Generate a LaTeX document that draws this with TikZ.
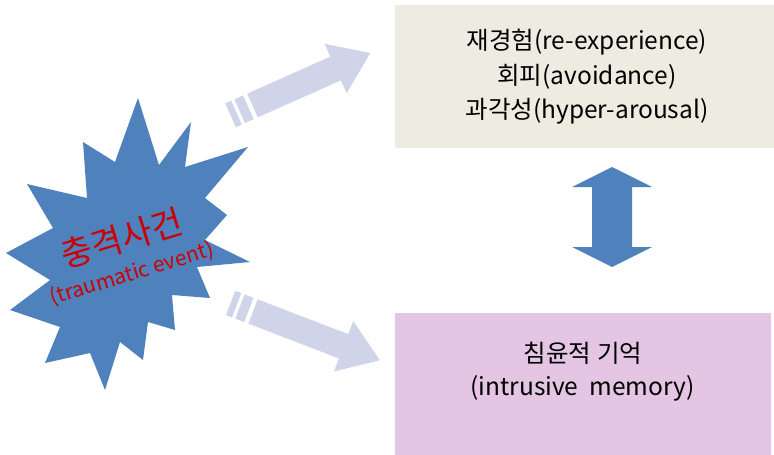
\documentclass[tikz,border=0pt]{standalone}
\usepackage{fontspec}
\setmainfont{Noto Sans CJK KR}
\definecolor{starblue}{RGB}{79,129,189}
\definecolor{paleblue}{RGB}{208,212,232}
\definecolor{boxbeige}{RGB}{238,236,225}
\definecolor{boxpink}{RGB}{228,198,228}
\definecolor{evred}{RGB}{204,0,0}
\begin{document}
\begin{tikzpicture}[x=1pt,y=-1pt,
  boxtext/.style={inner sep=0pt,text=black,font=\fontsize{24.5}{34}\selectfont},
  panel/.style={draw=none,inner sep=0pt,minimum width=#1},
  lightarrow/.style={fill=paleblue},
  bluefill/.style={fill=starblue}]
\useasboundingbox (0,0) rectangle (774,455);

% boxes
\path[fill=boxbeige] (395,5) rectangle (774,148);
\node[panel=0pt] (top) at (584.5,76.5) {};
\path[fill=boxpink] (395,313) rectangle (771,455);
\node[panel=0pt] (bottom) at (583,384) {};

\node[boxtext] (t1) at (587,42) {재경험(re-experience)};
\node[boxtext] (t2) at (587,76.5) {회피(avoidance)};
\node[boxtext] (t3) at (587,111) {과각성(hyper-arousal)};
\node[boxtext] (b1) at (583,353) {침윤적 기억};
\node[boxtext] (b2) at (582.5,388) {(intrusive~ memory)};

% star
\fill[bluefill] (138,98) -- (159,165) -- (191,122) -- (185,167) -- (248,147)
  -- (205,198) -- (227,215) -- (205,240) -- (250,262) -- (197,267)
  -- (210,298) -- (172,295) -- (175,330) -- (148,322) -- (143,360)
  -- (120,342) -- (105,390) -- (90,353) -- (45,363) -- (60,327)
  -- (10,310) -- (50,280) -- (6,253) -- (53,228) -- (27,184)
  -- (87,198) -- (83,142) -- (115,162) -- cycle;
\node[inner sep=0pt,text=evred,rotate=17,font=\fontsize{34}{38}\selectfont] (ev1) at (122,238) {충격사건};
\node[inner sep=0pt,text=evred,rotate=17,font=\fontsize{21}{24}\selectfont] (ev2) at (132,274) {(traumatic event)};

% upper striped arrow
\begin{scope}[shift={(252.5,105.5)},rotate=24]
  \fill[lightarrow] (0,-13) -- (91,-13) -- (91,-27) -- (129,0) -- (91,27) -- (91,13) -- (0,13) -- cycle;
  \fill[lightarrow] (-14,-13) rectangle (-4.5,13);
  \fill[lightarrow] (-24,-13) rectangle (-17.5,13);
\end{scope}

% lower striped arrow
\begin{scope}[shift={(253,311.5)},rotate=-21]
  \fill[lightarrow] (0,-13) -- (97,-13) -- (97,-27) -- (136,0) -- (97,27) -- (97,13) -- (0,13) -- cycle;
  \fill[lightarrow] (-14,-13) rectangle (-4.5,13);
  \fill[lightarrow] (-24,-13) rectangle (-17.5,13);
\end{scope}

% double arrow
\fill[bluefill] (612,167) -- (652,187) -- (632,187) -- (632,247) -- (652,247)
  -- (612,267) -- (572,247) -- (592,247) -- (592,187) -- (572,187) -- cycle;
\end{tikzpicture}
\end{document}
